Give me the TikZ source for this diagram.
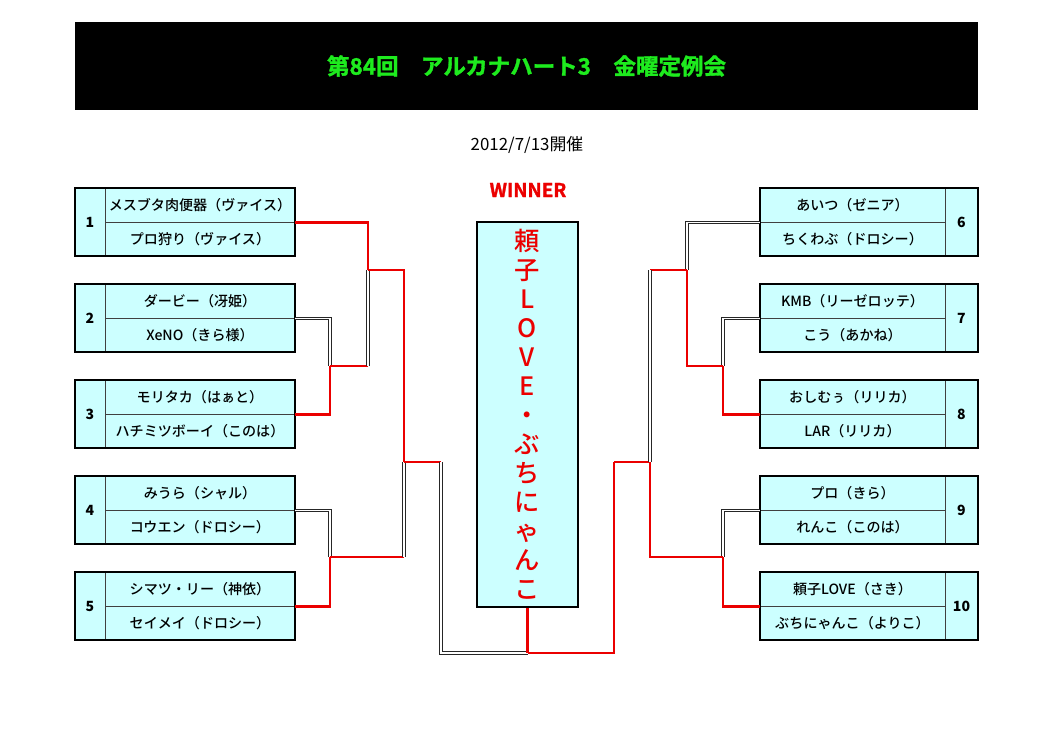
\documentclass[tikz,border=0pt]{standalone}
\usepackage{fontspec}
\setmainfont{Noto Sans CJK JP}
\newfontfamily\namefont{Noto Sans CJK JP Medium}
\newfontfamily\heavyfont[BoldFont={Noto Sans CJK JP Bold}, BoldFeatures={FakeBold=1.5}]{Noto Sans CJK JP}
\usepackage{tikz}

\definecolor{titlegreen}{RGB}{30,235,30}
\definecolor{winred}{RGB}{235,0,0}
\definecolor{boxcyan}{RGB}{204,255,255}

\tikzset{
  teamrow/.style={draw=black!75, fill=boxcyan, inner sep=0pt,
    minimum width=4.75cm, minimum height=0.85cm,
    font=\namefont\fontsize{10}{12}\selectfont},
  seednum/.style={draw=black!75, fill=boxcyan, inner sep=0pt,
    minimum width=0.75cm, minimum height=1.7cm,
    font=\fontsize{10}{12}\selectfont\bfseries},
  boxframe/.style={draw=black, line width=1.4pt},
  winline/.style={draw=winred, line width=2pt},
  loseline/.style={draw=black!85, double=white, double distance=0.8pt, line width=0.7pt}
}

\begin{document}
\begin{tikzpicture}[x=0.025cm, y=-0.025cm]

\useasboundingbox (0,0) rectangle (1053,744);

\node[
    fill=black,
    minimum width=22.575cm,
    minimum height=2.2cm,
    text=titlegreen,
    font=\heavyfont\bfseries\fontsize{16}{18}\selectfont
] (title) at (526.5,66)
{第84回　アルカナハート3　金曜定例会};

\node[font=\fontsize{12}{14}\selectfont] (date) at (527,145) {2012/7/13開催};

\node[text=winred, font=\heavyfont\bfseries\fontsize{13.5}{15}\selectfont] (winlabel) at (528,190) {WINNER};

\node[
    draw=black,
    line width=1.4pt,
    fill=boxcyan,
    minimum width=2.525cm,
    minimum height=9.625cm,
    inner sep=0pt
] (win) at (527.5,414.5) {};
\node[
    text=winred,
    align=center,
    font=\namefont\fontsize{18}{20.6}\selectfont
] (wintext) at (win.center)
{頼\\子\\L\\O\\V\\E\\・\\ぶ\\ち\\に\\ゃ\\ん\\こ};

% left side
\node[seednum] (n1) at (90,222) {1};
\node[teamrow] (t1a) at (200,205) {メスブタ肉便器（ヴァイス）};
\node[teamrow] (t1b) at (200,239) {プロ狩り（ヴァイス）};
\draw[boxframe] (n1.north west) rectangle (t1b.south east);

\node[seednum] (n2) at (90,318) {2};
\node[teamrow] (t2a) at (200,301) {ダービー（冴姫）};
\node[teamrow] (t2b) at (200,335) {XeNO（きら様）};
\draw[boxframe] (n2.north west) rectangle (t2b.south east);

\node[seednum] (n3) at (90,414) {3};
\node[teamrow] (t3a) at (200,397) {モリタカ（はぁと）};
\node[teamrow] (t3b) at (200,431) {ハチミツボーイ（このは）};
\draw[boxframe] (n3.north west) rectangle (t3b.south east);

\node[seednum] (n4) at (90,510) {4};
\node[teamrow] (t4a) at (200,493) {みうら（シャル）};
\node[teamrow] (t4b) at (200,527) {コウエン（ドロシー）};
\draw[boxframe] (n4.north west) rectangle (t4b.south east);

\node[seednum] (n5) at (90,606) {5};
\node[teamrow] (t5a) at (200,589) {シマツ・リー（神依）};
\node[teamrow] (t5b) at (200,623) {セイメイ（ドロシー）};
\draw[boxframe] (n5.north west) rectangle (t5b.south east);

% right side
\node[seednum, minimum width=0.825cm] (n6) at (961.5,222) {6};
\node[teamrow, minimum width=4.625cm] (t6a) at (852.5,205) {あいつ（ゼニア）};
\node[teamrow, minimum width=4.625cm] (t6b) at (852.5,239) {ちくわぶ（ドロシー）};
\draw[boxframe] (t6a.north west) rectangle (n6.south east);

\node[seednum, minimum width=0.825cm] (n7) at (961.5,318) {7};
\node[teamrow, minimum width=4.625cm] (t7a) at (852.5,301) {KMB（リーゼロッテ）};
\node[teamrow, minimum width=4.625cm] (t7b) at (852.5,335) {こう（あかね）};
\draw[boxframe] (t7a.north west) rectangle (n7.south east);

\node[seednum, minimum width=0.825cm] (n8) at (961.5,414) {8};
\node[teamrow, minimum width=4.625cm] (t8a) at (852.5,397) {おしむぅ（リリカ）};
\node[teamrow, minimum width=4.625cm] (t8b) at (852.5,431) {LAR（リリカ）};
\draw[boxframe] (t8a.north west) rectangle (n8.south east);

\node[seednum, minimum width=0.825cm] (n9) at (961.5,510) {9};
\node[teamrow, minimum width=4.625cm] (t9a) at (852.5,493) {プロ（きら）};
\node[teamrow, minimum width=4.625cm] (t9b) at (852.5,527) {れんこ（このは）};
\draw[boxframe] (t9a.north west) rectangle (n9.south east);

\node[seednum, minimum width=0.825cm] (n10) at (961.5,606) {10};
\node[teamrow, minimum width=4.625cm] (t10a) at (852.5,589) {頼子LOVE（さき）};
\node[teamrow, minimum width=4.625cm] (t10b) at (852.5,623) {ぶちにゃんこ（よりこ）};
\draw[boxframe] (t10a.north west) rectangle (n10.south east);

% junctions
\coordinate (j23) at (330,366);
\coordinate (j123) at (368,270);
\coordinate (j45) at (330,557);
\coordinate (jL) at (404,462);
\coordinate (jL2) at (441,462);
\coordinate (jF) at (527.5,653);
\coordinate (jR2) at (614,462);
\coordinate (jR) at (650,462);
\coordinate (j910) at (723,557);
\coordinate (j78) at (723,366);
\coordinate (j678) at (687,270);

\draw[loseline] (t2a.south east) -| (j23);
\draw[winline] (t3a.south east) -| (j23);
\draw[winline] (j23) -- (j123 |- j23);
\draw[loseline] (j123 |- j23) -- (j123);
\draw[winline] (t1a.south east) -| (j123);
\draw[winline] (j123) -| (jL);
\draw[loseline] (t4a.south east) -| (j45);
\draw[winline] (t5a.south east) -| (j45);
\draw[winline] (j45) -- (jL |- j45);
\draw[loseline] (jL |- j45) -- (jL);
\draw[winline] (jL) -- (jL2);
\draw[loseline] (jL2) |- (jF);

\draw[winline] (win.south) -- (jF);
\draw[winline] (jF) -| (jR2);
\draw[winline] (jR2) -- (jR);

\draw[loseline] (t7a.south west) -| (j78);
\draw[winline] (t8a.south west) -| (j78);
\draw[winline] (j78) -| (j678);
\draw[loseline] (t6a.south west) -| (j678);
\draw[winline] (j678) -- (jR |- j678);
\draw[loseline] (jR |- j678) -- (jR);
\draw[loseline] (t9a.south west) -| (j910);
\draw[winline] (t10a.south west) -| (j910);
\draw[winline] (j910) -| (jR);

\end{tikzpicture}
\end{document}
